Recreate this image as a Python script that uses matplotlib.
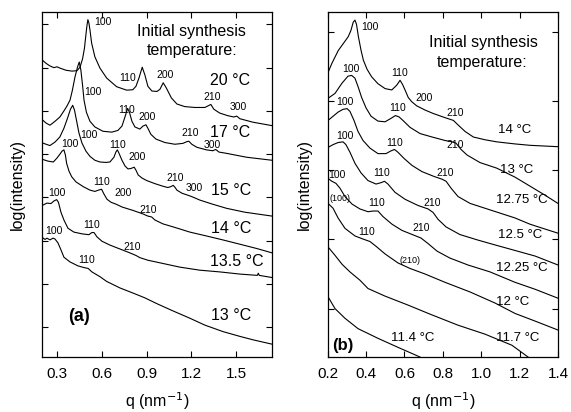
import matplotlib
matplotlib.use("Agg")
import matplotlib.pyplot as plt

plt.rcParams['font.family'] = ['Liberation Sans', 'DejaVu Sans']

# ---- panel (a): SAXS curves, q (nm^-1) vs log(intensity), arbitrary offsets ----
q_20 = [0.201, 0.224, 0.250, 0.277, 0.297, 0.317, 0.358, 0.398, 0.432, 0.452, 0.469, 0.482,
        0.492, 0.499, 0.505, 0.512, 0.519, 0.530, 0.552, 0.586, 0.631, 0.698, 0.765, 0.807,
        0.828, 0.848, 0.870, 0.888, 0.908, 0.935, 0.969, 0.989, 1.011, 1.032, 1.066, 1.103,
        1.156, 1.224, 1.291, 1.314, 1.331, 1.351, 1.391, 1.445, 1.485, 1.505, 1.526, 1.613, 1.742]
li_20 = [6.17, 6.10, 6.04, 6.00, 6.02, 5.99, 5.94, 5.92, 5.93, 6.01, 6.20, 6.45,
         6.77, 6.98, 7.11, 7.03, 6.87, 6.57, 6.25, 5.99, 5.76, 5.56, 5.48, 5.49,
         5.57, 5.76, 6.01, 5.83, 5.57, 5.46, 5.45, 5.50, 5.65, 5.53, 5.30, 5.16,
         5.10, 5.08, 5.08, 5.12, 5.15, 5.04, 4.95, 4.89, 4.86, 4.88, 4.82, 4.74, 4.66]

q_17 = [0.201, 0.224, 0.250, 0.284, 0.317, 0.344, 0.364, 0.385, 0.401, 0.418, 0.435, 0.447,
        0.458, 0.469, 0.479, 0.495, 0.519, 0.552, 0.606, 0.666, 0.707, 0.734, 0.754, 0.772,
        0.784, 0.801, 0.821, 0.854, 0.875, 0.895, 0.908, 0.928, 0.962, 1.022, 1.089, 1.143,
        1.170, 1.183, 1.203, 1.237, 1.302, 1.344, 1.364, 1.385, 1.436, 1.571, 1.742]
li_17 = [4.79, 4.72, 4.67, 4.76, 4.86, 5.00, 5.11, 5.25, 5.48, 5.78, 6.01, 6.13,
         5.94, 5.60, 5.25, 4.97, 4.76, 4.63, 4.53, 4.51, 4.55, 4.65, 4.86, 5.06,
         4.97, 4.76, 4.63, 4.58, 4.65, 4.68, 4.60, 4.46, 4.35, 4.27, 4.23, 4.25,
         4.29, 4.30, 4.23, 4.16, 4.10, 4.08, 4.11, 4.05, 4.02, 3.93, 3.86]

q_15 = [0.201, 0.224, 0.250, 0.284, 0.317, 0.344, 0.368, 0.388, 0.403, 0.415, 0.428, 0.445,
        0.465, 0.492, 0.519, 0.552, 0.586, 0.626, 0.653, 0.680, 0.693, 0.703, 0.713, 0.734,
        0.754, 0.774, 0.794, 0.816, 0.828, 0.843, 0.868, 0.901, 0.955, 1.009, 1.042, 1.062,
        1.078, 1.089, 1.103, 1.136, 1.170, 1.203, 1.257, 1.338, 1.436, 1.559, 1.660, 1.742]
li_15 = [4.26, 4.23, 4.20, 4.28, 4.40, 4.60, 4.83, 5.04, 5.13, 5.02, 4.79, 4.49,
         4.26, 4.07, 3.95, 3.86, 3.82, 3.81, 3.82, 3.93, 4.05, 4.10, 4.03, 3.86,
         3.73, 3.66, 3.67, 3.70, 3.63, 3.52, 3.45, 3.39, 3.32, 3.26, 3.23, 3.25,
         3.28, 3.24, 3.17, 3.10, 3.06, 3.02, 2.94, 2.85, 2.75, 2.66, 2.61, 2.57]

q_14 = [0.201, 0.237, 0.273, 0.297, 0.317, 0.331, 0.344, 0.354, 0.362, 0.378, 0.396, 0.425,
        0.474, 0.519, 0.552, 0.576, 0.597, 0.613, 0.633, 0.660, 0.698, 0.734, 0.809, 0.875,
        0.908, 0.933, 0.955, 1.009, 1.078, 1.190, 1.302, 1.411, 1.526, 1.640, 1.742]
li_14 = [3.88, 3.84, 3.82, 3.91, 4.00, 4.07, 4.10, 3.98, 3.79, 3.61, 3.48, 3.36,
         3.25, 3.17, 3.14, 3.17, 3.19, 3.08, 2.96, 2.89, 2.84, 2.78, 2.70, 2.62,
         2.57, 2.55, 2.48, 2.39, 2.32, 2.20, 2.11, 2.02, 1.92, 1.82, 1.72]

q_135 = [0.201, 0.230, 0.257, 0.277, 0.295, 0.307, 0.324, 0.344, 0.371, 0.411, 0.465, 0.512,
         0.532, 0.546, 0.566, 0.599, 0.653, 0.720, 0.787, 0.828, 0.854, 0.908, 0.989, 1.123,
         1.257, 1.391, 1.526, 1.643, 1.650, 1.656, 1.742]
li_135 = [2.82, 2.87, 2.86, 2.92, 2.95, 2.89, 2.66, 2.48, 2.29, 2.20, 2.16, 2.14,
          2.19, 2.19, 2.09, 1.99, 1.90, 1.81, 1.72, 1.66, 1.61, 1.55, 1.49, 1.39,
          1.32, 1.28, 1.23, 1.20, 1.25, 1.20, 1.15]

q_13 = [0.201, 0.217, 0.230, 0.250, 0.271, 0.284, 0.304, 0.324, 0.344, 0.385, 0.438, 0.479,
        0.507, 0.532, 0.586, 0.631, 0.720, 0.809, 0.888, 0.966, 1.069, 1.190, 1.291, 1.413,
        1.526, 1.615, 1.742]
li_13 = [2.07, 2.03, 2.06, 2.02, 2.06, 2.04, 1.95, 1.79, 1.62, 1.51, 1.42, 1.38,
         1.36, 1.28, 1.17, 1.06, 0.91, 0.79, 0.68, 0.55, 0.39, 0.21, 0.05, -0.10,
         -0.21, -0.29, -0.39]

# ---- panel (b) ----
q_b14 = [0.203, 0.221, 0.255, 0.281, 0.307, 0.321, 0.333, 0.342, 0.350, 0.360, 0.374, 0.386,
         0.405, 0.429, 0.462, 0.499, 0.534, 0.560, 0.577, 0.590, 0.603, 0.620, 0.638, 0.664,
         0.707, 0.750, 0.811, 0.855, 0.881, 0.916, 0.959, 1.020, 1.081, 1.176, 1.254, 1.400]
li_b14 = [3.42, 3.54, 3.73, 3.83, 3.93, 4.02, 4.14, 4.17, 4.11, 3.93, 3.73, 3.59,
          3.46, 3.35, 3.25, 3.18, 3.16, 3.23, 3.30, 3.24, 3.16, 3.05, 2.99, 2.93,
          2.87, 2.82, 2.76, 2.72, 2.65, 2.56, 2.48, 2.44, 2.41, 2.38, 2.36, 2.34]

q_b13 = [0.202, 0.238, 0.275, 0.306, 0.325, 0.342, 0.358, 0.377, 0.400, 0.426, 0.462, 0.499,
         0.530, 0.553, 0.572, 0.592, 0.629, 0.681, 0.744, 0.811, 0.848, 0.869, 0.895, 0.926,
         0.994, 1.081, 1.176, 1.254, 1.332, 1.400]
li_b13 = [3.04, 3.11, 3.26, 3.36, 3.37, 3.33, 3.21, 3.05, 2.90, 2.78, 2.71, 2.70,
          2.75, 2.79, 2.77, 2.72, 2.62, 2.53, 2.48, 2.43, 2.41, 2.39, 2.30, 2.22,
          2.11, 2.03, 1.90, 1.77, 1.64, 1.52]

q_b1275 = [0.202, 0.228, 0.254, 0.280, 0.301, 0.316, 0.337, 0.358, 0.384, 0.420, 0.462, 0.504,
           0.530, 0.548, 0.566, 0.598, 0.639, 0.691, 0.754, 0.796, 0.817, 0.843, 0.879, 0.942,
           1.020, 1.098, 1.176, 1.254, 1.332, 1.400]
li_b1275 = [2.72, 2.78, 2.84, 2.88, 2.89, 2.85, 2.72, 2.56, 2.43, 2.32, 2.24, 2.24,
            2.28, 2.30, 2.26, 2.17, 2.07, 1.98, 1.91, 1.87, 1.84, 1.74, 1.62, 1.52,
            1.45, 1.38, 1.31, 1.22, 1.15, 1.09]

q_b125 = [0.202, 0.228, 0.254, 0.280, 0.295, 0.316, 0.342, 0.374, 0.410, 0.452, 0.478, 0.496,
          0.514, 0.551, 0.603, 0.671, 0.723, 0.749, 0.775, 0.817, 0.889, 0.983, 1.072, 1.176,
          1.280, 1.400]
li_b125 = [2.33, 2.37, 2.40, 2.41, 2.37, 2.26, 2.10, 1.96, 1.85, 1.80, 1.82, 1.84,
           1.80, 1.68, 1.58, 1.49, 1.44, 1.39, 1.29, 1.18, 1.07, 0.99, 0.92, 0.84,
           0.76, 0.63]

q_b1225 = [0.202, 0.222, 0.243, 0.264, 0.290, 0.327, 0.368, 0.410, 0.436, 0.462, 0.488, 0.535,
           0.587, 0.650, 0.686, 0.723, 0.770, 0.837, 0.931, 1.046, 1.176, 1.280, 1.400]
li_b1225 = [1.88, 1.84, 1.81, 1.74, 1.62, 1.51, 1.44, 1.40, 1.41, 1.41, 1.33, 1.22,
            1.13, 1.06, 1.02, 0.94, 0.83, 0.73, 0.63, 0.53, 0.38, 0.28, 0.15]

q_b12 = [0.202, 0.228, 0.254, 0.290, 0.342, 0.389, 0.420, 0.452, 0.499, 0.566, 0.629, 0.707,
         0.811, 0.942, 1.072, 1.176, 1.280, 1.400]
li_b12 = [1.52, 1.45, 1.31, 1.16, 1.05, 1.00, 0.97, 0.90, 0.79, 0.66, 0.58, 0.50,
          0.38, 0.24, 0.08, -0.07, -0.18, -0.31]

q_b117 = [0.202, 0.238, 0.275, 0.316, 0.368, 0.410, 0.499, 0.619, 0.733, 0.879, 1.020, 1.160,
          1.244, 1.265]
li_b117 = [0.89, 0.77, 0.64, 0.53, 0.41, 0.29, 0.18, 0.05, -0.08, -0.24, -0.37, -0.53,
           -0.70, -0.75]

q_b114 = [0.202, 0.238, 0.290, 0.358, 0.462, 0.566, 0.681, 0.707]
li_b114 = [0.17, 0.00, -0.14, -0.29, -0.43, -0.56, -0.70, -0.75]

curves_a = [(q_20, li_20), (q_17, li_17), (q_15, li_15),
            (q_14, li_14), (q_135, li_135), (q_13, li_13)]
curves_b = [(q_b14, li_b14), (q_b13, li_b13), (q_b1275, li_b1275), (q_b125, li_b125),
            (q_b1225, li_b1225), (q_b12, li_b12), (q_b117, li_b117), (q_b114, li_b114)]

temps_a = ['20 °C', '17 °C', '15 °C', '14 °C', '13.5 °C', '13 °C']
temps_b = ['14 °C', '13 °C', '12.75 °C', '12.5 °C', '12.25 °C', '12 °C', '11.7 °C', '11.4 °C']

# peak (hkl) labels: text, q, y
peaks_a = [('100', 0.606, 7.05), ('110', 0.770, 5.76), ('200', 1.022, 5.83), ('210', 1.341, 5.32),
           ('300', 1.512, 5.09),
           ('100', 0.539, 5.43), ('110', 0.767, 5.02), ('200', 0.901, 4.86), ('210', 1.190, 4.49),
           ('300', 1.338, 4.21),
           ('100', 0.515, 4.44), ('110', 0.707, 4.21), ('200', 0.834, 3.93), ('210', 1.089, 3.45),
           ('300', 1.217, 3.22),
           ('100', 0.385, 4.23), ('110', 0.599, 3.36), ('200', 0.740, 3.10), ('210', 0.908, 2.71),
           ('100', 0.297, 3.10), ('110', 0.532, 2.36), ('210', 0.801, 1.86),
           ('100', 0.277, 2.22), ('110', 0.499, 1.55)]
peaks_b = [('100', 0.420, 4.07), ('110', 0.577, 3.40), ('200', 0.702, 3.05), ('210', 0.863, 2.82),
           ('100', 0.321, 3.47), ('110', 0.566, 2.90), ('210', 0.863, 2.37),
           ('100', 0.290, 2.98), ('110', 0.546, 2.40), ('210', 0.811, 1.96),
           ('100', 0.290, 2.50), ('110', 0.483, 1.96), ('210', 0.744, 1.52),
           ('100', 0.249, 1.93), ('110', 0.457, 1.52), ('210', 0.686, 1.16),
           ('(100)', 0.264, 1.59), ('110', 0.405, 1.10), ('(210)', 0.629, 0.70)]

temp_pos_a = [(1.458, 5.71), (1.458, 4.51), (1.465, 3.17), (1.465, 2.29), (1.505, 1.51), (1.465, 0.28)]
temp_pos_b = [(1.176, 2.58), (1.186, 2.00), (1.212, 1.57), (1.202, 1.06), (1.212, 0.58),
              (1.166, 0.09), (1.192, -0.42), (0.644, -0.43)]

fig = plt.figure(figsize=(5.71, 4.12), dpi=100)
ax_a = fig.add_axes([0.0744, 0.1328, 0.4028, 0.8369])
ax_b = fig.add_axes([0.5739, 0.1328, 0.4033, 0.8369])

for q, li in curves_a:
    ax_a.plot(q, li, color='black', lw=0.8)
for q, li in curves_b:
    ax_b.plot(q, li, color='black', lw=0.8)

for txt, x, y in peaks_a:
    ax_a.text(x, y, txt, fontsize=7.5, ha='center', va='center')
for txt, x, y in peaks_b:
    fs = 6.5 if txt.startswith('(') else 7.5
    ax_b.text(x, y, txt, fontsize=fs, ha='center', va='center')

for t, (x, y) in zip(temps_a, temp_pos_a):
    ax_a.text(x, y, t, fontsize=11.5, ha='center', va='center')
for t, (x, y) in zip(temps_b, temp_pos_b):
    ax_b.text(x, y, t, fontsize=9.5, ha='center', va='center')

ax_a.text(1.203, 6.84, 'Initial synthesis', fontsize=11.5, ha='center', va='center')
ax_a.text(1.203, 6.40, 'temperature:', fontsize=11.5, ha='center', va='center')
ax_b.text(1.010, 3.85, 'Initial synthesis', fontsize=11.5, ha='center', va='center')
ax_b.text(1.005, 3.56, 'temperature:', fontsize=11.5, ha='center', va='center')

ax_a.text(0.445, 0.24, '(a)', fontsize=13, fontweight='bold', ha='center', va='center')
ax_b.text(0.280, -0.53, '(b)', fontsize=12, fontweight='bold', ha='center', va='center')

ax_a.set_xlim(0.2, 1.745)
ax_a.set_ylim(-0.693, 7.275)
ax_a.set_xticks([0.3, 0.6, 0.9, 1.2, 1.5])
ax_a.set_yticks(range(8))

ax_b.set_xlim(0.2, 1.4)
ax_b.set_ylim(-0.704, 4.28)
ax_b.set_xticks([0.2, 0.4, 0.6, 0.8, 1.0, 1.2, 1.4])
ax_b.set_xticklabels(['0.2', '0.4', '0.6', '0.8', '1.0', '1.2', '1.4'])
ax_b.set_yticks(range(5))

for ax in (ax_a, ax_b):
    ax.tick_params(direction='in', top=True, right=True, length=4, width=0.8,
                   labelsize=11, pad=7)
    ax.set_yticklabels([])
    for s in ax.spines.values():
        s.set_linewidth(0.9)
    ax.set_xlabel('q (nm$^{-1}$)', fontsize=11.5, labelpad=7)
    ax.set_ylabel('log(intensity)', fontsize=11.5)

ax_a.yaxis.set_label_coords(-0.076, 0.5)
ax_b.yaxis.set_label_coords(-0.068, 0.5)

fig.savefig('out.png', dpi=100)
